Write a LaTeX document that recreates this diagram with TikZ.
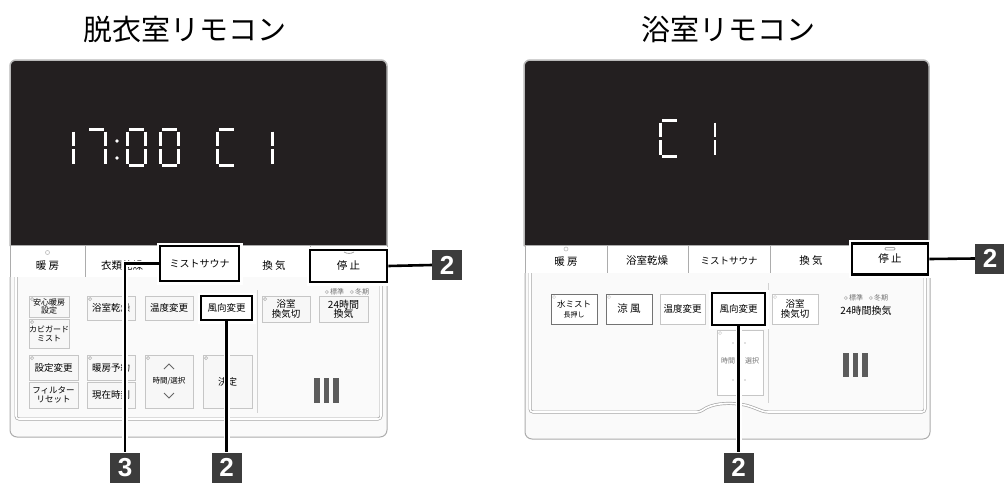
\documentclass[tikz,border=0pt]{standalone}
\usepackage{fontspec}
\setmainfont{Noto Sans CJK JP}
\newfontfamily\tagfont{Liberation Sans}
\usetikzlibrary{calc}

\definecolor{lcd}{HTML}{231F20}
\definecolor{tagfill}{HTML}{3C3C3C}
\definecolor{barfill}{HTML}{5C5C5C}

\tikzset{
  title/.style={font=\fontsize{29}{32}\selectfont, inner sep=0pt},
  lcdbox/.style={fill=lcd, draw=gray!55, line width=1.5pt, rounded corners=6pt},
  seg/.style={draw=white, line width=2.6pt},
  rowbox/.style={draw=gray!65, fill=white, line width=0.9pt},
  rowsep/.style={draw=gray!65, line width=0.9pt},
  rowtext/.style={font=\fontsize{10.5}{11}\selectfont, inner sep=0pt},
  panel/.style={draw=gray!65, fill=gray!4, line width=1pt, rounded corners=7pt},
  innerwall/.style={draw=gray!70, double=white, double distance=1.6pt, line width=0.7pt, rounded corners=3pt},
  btn/.style={draw=gray!45, fill=gray!6, line width=0.8pt, inner sep=0pt, align=center,
    font=\fontsize{9.5}{10}\selectfont},
  darkbtn/.style={btn, draw=gray!90!black, fill=white},
  hilite/.style={draw=black, fill=white, line width=2.6pt, inner sep=0pt, align=center,
    preaction={draw=white, line width=7pt}},
  small/.style={font=\fontsize{7}{7}\selectfont, inner sep=0pt, text=gray!90!black},
  led/.style={draw=gray!55, line width=0.6pt},
  divider/.style={draw=gray!35, line width=0.8pt},
  bar/.style={fill=barfill},
  callout/.style={draw=black, line width=2.6pt, preaction={draw=white, line width=6pt}},
  tag/.style={fill=tagfill, text=white, minimum size=30pt, inner sep=0pt,
    font=\tagfont\bfseries\fontsize{26}{26}\selectfont},
}

% seven segment pieces, cell 21 x 39
\newcommand{\segA}[2]{\draw[seg] (#1+3,#2+1.5) -- (#1+18,#2+1.5);}
\newcommand{\segB}[2]{\draw[seg] (#1+19.5,#2+3.5) -- (#1+19.5,#2+18);}
\newcommand{\segC}[2]{\draw[seg] (#1+19.5,#2+21) -- (#1+19.5,#2+35.5);}
\newcommand{\segD}[2]{\draw[seg] (#1+3,#2+37.5) -- (#1+18,#2+37.5);}
\newcommand{\segE}[2]{\draw[seg] (#1+1.5,#2+21) -- (#1+1.5,#2+35.5);}
\newcommand{\segF}[2]{\draw[seg] (#1+1.5,#2+3.5) -- (#1+1.5,#2+18);}

\begin{document}
\begin{tikzpicture}[x=1pt,y=-1pt]
\useasboundingbox (0,0) rectangle (1004,482);

% titles
\node[title] (ltitle) at (185,29) {脱衣室リモコン};
\node[title] (rtitle) at (728,29) {浴室リモコン};

%% ---------- left remote ----------
\filldraw[lcdbox] (10,246) -- (10,60) -- (387,60) -- (387,246);
% 17:00 C 1
\segB{54}{128}\segC{54}{128}
\segA{86}{128}\segB{86}{128}\segC{86}{128}
\fill[white] (117,141) circle (1.8) (117,158) circle (1.8);
\foreach \x in {126,159}{
  \segA{\x}{128}\segB{\x}{128}\segC{\x}{128}\segD{\x}{128}\segE{\x}{128}\segF{\x}{128}
}
\segA{216}{128}\segD{216}{128}\segE{216}{128}\segF{216}{128}
\segB{253}{128}\segC{253}{128}

% row of keys
\draw[rowbox] (10,245) rectangle (387,277);
\foreach \x in {85,160,238,310}
  \draw[rowsep] (\x,245) -- (\x,277);
\node[rowtext] (Lheat) at (47.5,266) {暖 房};
\draw[led] (47.5,252.5) circle (2);
\node[rowtext] (Lcloth) at (122,266) {衣類乾燥};
\node[rowtext] (Lfan) at (274,266) {換 気};

% lower panel
\filldraw[panel] (10,277) -- (10,437) -- (387,437) -- (387,277);
\draw[innerwall] (16,277) -- (16,419) -- (381,419) -- (381,277);
\draw[divider] (257,290) -- (257,413);

\node[btn, minimum width=40, minimum height=21, font=\fontsize{8}{8.5}\selectfont] (Lanshin) at (49,306.5) {安心暖房\\設定};
\node[btn, minimum width=40, minimum height=29, font=\fontsize{8}{9}\selectfont] (Lkabi) at (49,333.5) {カビガード\\ミスト};
\node[btn, minimum width=48, minimum height=24] (Lbathdry) at (111,308) {浴室乾燥};
\node[btn, minimum width=48, minimum height=24] (Ltemp) at (169,308) {温度変更};
\node[btn, minimum width=48, minimum height=26, font=\fontsize{9.5}{9.5}\selectfont] (Lvent) at (286,309) {浴室\\換気切};
\node[btn, minimum width=49, minimum height=26, font=\fontsize{10}{9.5}\selectfont] (L24h) at (343.5,309) {24時間\\換気};
\node[small] (Lstd) at (337,292) {標準};
\node[small] (Lwin) at (362,292) {冬期};
\draw[led] ($(Lstd.west)+(-3,0)$) circle (1.6) ($(Lwin.west)+(-3,0)$) circle (1.6);
\node[btn, minimum width=49, minimum height=25] (Lset) at (53.5,367.5) {設定変更};
\node[btn, minimum width=48, minimum height=25] (Lresv) at (111,367.5) {暖房予約};
\node[btn, minimum width=49, minimum height=26, font=\fontsize{8.5}{8.5}\selectfont] (Lfilter) at (53.5,395) {フィルター\\リセット};
\node[btn, minimum width=48, minimum height=26] (Lnow) at (111,395) {現在時刻};
\node[btn, minimum width=48, minimum height=53, font=\fontsize{7.5}{8}\selectfont] (Ltime) at (169,381.5) {時間/選択};
\draw[gray!80!black, line width=0.8pt] (164,369) -- (169,364) -- (174,369);
\draw[gray!80!black, line width=0.8pt] (164,393) -- (169,398) -- (174,393);
\node[btn, minimum width=49, minimum height=53] (Lok) at (227.5,381.5) {決定};
\foreach \b in {Lanshin,Lkabi,Lbathdry,Lvent,Lset,Lresv,Ltime,Lok}
  \draw[led] ($(\b.north west)+(3.5,3.5)$) circle (1.6);
\foreach \x in {314,323.5,333}
  \fill[bar] (\x,378) rectangle ++(5.5,25);

% marked keys
\node[hilite, minimum width=79, minimum height=35, font=\fontsize{10}{10}\selectfont] (Lmist) at (199.5,263.5) {ミストサウナ};
\node[hilite, minimum width=77, minimum height=32, font=\fontsize{10.5}{11}\selectfont] (Lstop) at (348.5,266) {停 止};
\draw[gray!70, line width=0.8pt] (344,252) to[bend right=30] (354,252);
\node[hilite, minimum width=51, minimum height=24, font=\fontsize{9.5}{10}\selectfont] (Lwind) at (226.5,308) {風向変更};

%% ---------- right remote ----------
\filldraw[lcdbox] (524,246) -- (524,60) -- (929,60) -- (929,246);
% C 1
\segA{659}{119}\segD{659}{119}\segE{659}{119}\segF{659}{119}
\segB{695.5}{119}\segC{695.5}{119}

\draw[rowbox] (525,245) rectangle (930,273);
\foreach \x in {607,688,770,852}
  \draw[rowsep] (\x,245) -- (\x,273);
\node[rowtext] (Rheat) at (566,262) {暖 房};
\draw[led] (566,249) circle (2);
\node[rowtext] (Rdry) at (647,261) {浴室乾燥};
\node[rowtext, font=\fontsize{9.5}{10}\selectfont] (Rmist) at (729,261) {ミストサウナ};
\node[rowtext] (Rfan) at (811,261) {換 気};

\filldraw[panel] (525,273) -- (525,439) -- (930,439) -- (930,273);
\draw[innerwall] (530,273) -- (530,412) -- (700,412)
  .. controls (712,403) and (728,403) .. (738,404)
  .. controls (748,405) and (754,408) .. (765,412) -- (925,412) -- (925,273);
\draw[divider] (768,283) -- (768,403);

\node[darkbtn, minimum width=46, minimum height=30, font=\fontsize{8.5}{8.5}\selectfont] (Rwater) at (574,309) {水ミスト\\[1pt]{\fontsize{7}{7}\selectfont 長押し}};
\node[darkbtn, minimum width=46, minimum height=30, font=\fontsize{10.5}{11}\selectfont] (Rcool) at (629,309) {涼 風};
\node[btn, fill=white, minimum width=45, minimum height=30] (Rtemp) at (682.5,309) {温度変更};
\node[btn, fill=white, minimum width=46, minimum height=30] (Rvent) at (795,309) {浴室\\換気切};
\node[small] (Rstd) at (856,298) {標準};
\node[small] (Rwin) at (881,298) {冬期};
\draw[led] ($(Rstd.west)+(-3,0)$) circle (1.6) ($(Rwin.west)+(-3,0)$) circle (1.6);
\node[font=\fontsize{10}{10}\selectfont, inner sep=0pt] (R24h) at (866,311) {24時間換気};
\node[btn, fill=white, minimum width=46, minimum height=65] (Rtime) at (740,362.5) {};
\node[small] (Rtimeh) at (728,361) {時間};
\node[small] (Rtimes) at (752,361) {選択};
\foreach \x in {733,745}
  \fill[gray] (\x,343) circle (0.6) (\x,380) circle (0.6);
\foreach \b in {Rwater,Rcool,Rvent,Rtime}
  \draw[led, draw=gray!30] ($(\b.north west)+(3.5,3.5)$) circle (1.6);
\foreach \x in {843,852.5,862}
  \fill[bar] (\x,353) rectangle ++(5.5,24);

\node[hilite, minimum width=76, minimum height=31, font=\fontsize{10.5}{11}\selectfont] (Rstop) at (890,259) {停 止};
\draw[gray!70, line width=0.8pt, rounded corners=1pt] (885,247.5) rectangle (895,250);
\node[hilite, minimum width=53, minimum height=32, font=\fontsize{9.5}{10}\selectfont] (Rwind) at (738.5,309) {風向変更};

%% ---------- callouts ----------
\node[tag] (L3) at (125,467.5) {3};
\node[tag] (L2b) at (226.5,467.5) {2};
\node[tag] (L2a) at (447,265) {2};
\node[tag] (R2b) at (738.5,467.5) {2};
\node[tag] (R2a) at (990,258.5) {2};

\draw[callout] (Lmist.west) -| (L3.north);
\draw[callout] (Lwind.south) -- (L2b.north);
\draw[callout] (Lstop.east) -- (L2a.west);
\draw[callout] (Rwind.south) -- (R2b.north);
\draw[callout] (Rstop.east) -- (R2a.west);
\end{tikzpicture}
\end{document}
